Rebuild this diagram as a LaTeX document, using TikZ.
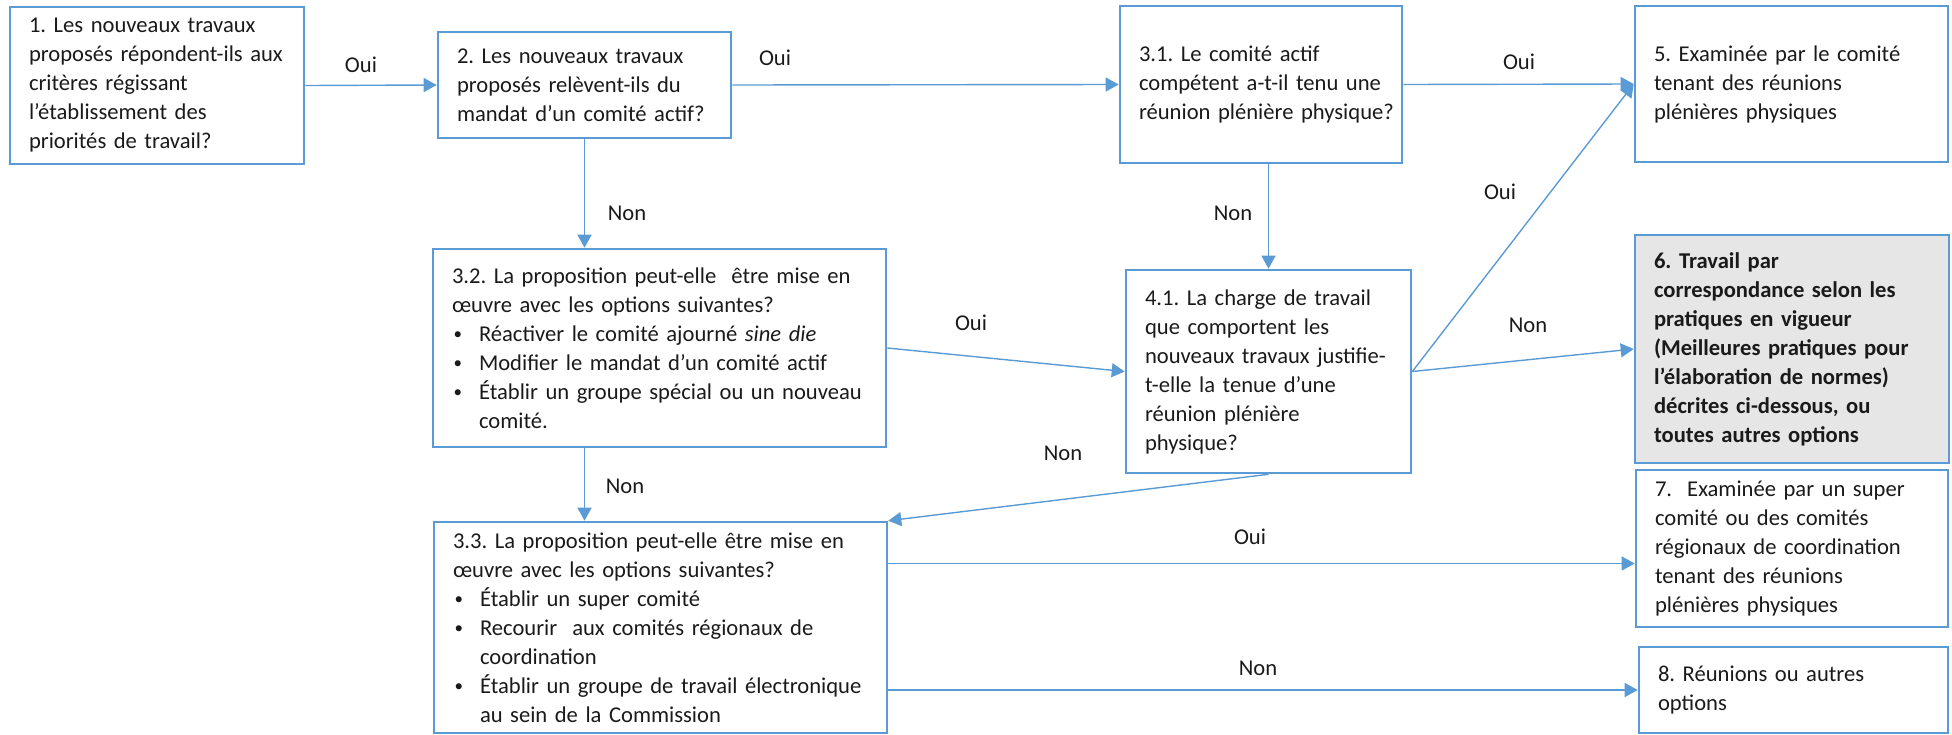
\documentclass[tikz,border=0pt]{standalone}
\usepackage{fontspec}
\setmainfont{Carlito}
\usepackage{tikz}
\usetikzlibrary{arrows.meta}
\definecolor{bord}{HTML}{5B9BD5}
\definecolor{fond}{HTML}{E7E6E6}
\definecolor{texte}{HTML}{1A1A1A}
\newcommand\puce{\makebox[13.5pt][l]{\hspace{0.8pt}\raisebox{0.8pt}{\fontsize{8.5pt}{8.5pt}\selectfont •}}}
\newcommand\suite{\hspace*{13.5pt}}
\frenchspacing
\tikzset{
  box/.style={draw=bord, line width=1.3pt, text=texte, align=left, inner xsep=9.5pt, inner ysep=2pt, font=\fontsize{11.3pt}{14.5pt}\selectfont},
  grisbox/.style={box, fill=fond, font=\fontsize{11.3pt}{14.5pt}\selectfont\bfseries},
  fleche/.style={draw=bord, line width=0.7pt, -{Triangle[length=6.5pt,width=7pt]}},
  lab/.style={text=texte, inner sep=0pt, font=\fontsize{11.3pt}{14.5pt}\selectfont},
}

\begin{document}
\begin{tikzpicture}[x=0.5pt,y=-0.5pt]
  \useasboundingbox (0,0) rectangle (1952,734);
  % boxes, centres in pixels of the page
  \node[box, text width=128pt, minimum height=78.5pt] (q1) at (157,85.5)
    {1. Les nouveaux travaux\\proposés répondent-ils aux\\critères régissant\\l’établissement des\\priorités de travail?};
  \node[box, text width=127.5pt, minimum height=53pt] (q2) at (584.5,85)
    {2. Les nouveaux travaux\\proposés relèvent-ils du\\mandat d’un comité actif?};
  \node[box, text width=122pt, minimum height=78.5pt] (q31) at (1261,84.5)
    {3.1. Le comité actif\\compétent a-t-il tenu une\\\mbox{réunion plénière physique?}};
  \node[box, text width=137.5pt, minimum height=78pt] (q5) at (1791.5,84)
    {5. Examinée par le comité\\tenant des réunions\\plénières physiques};
  \node[box, text width=207.5pt, minimum height=99pt] (q32) at (659.5,348)
    {3.2. La proposition peut-elle\ \ être mise en\\œuvre avec les options suivantes?\\
     \puce Réactiver le comité ajourné \textit{sine die}\\\puce Modifier le mandat d’un comité actif\\
     \puce Établir un groupe spécial ou un nouveau\\\suite comité.};
  \node[box, text width=123.5pt, minimum height=101.5pt] (q41) at (1268.5,371.5)
    {4.1. La charge de travail\\que comportent les\\nouveaux travaux justifie-\\t-elle la tenue d’une\\réunion plénière\\physique?};
  \node[grisbox, text width=138pt, minimum height=114pt] (q6) at (1792,349)
    {6. Travail par\\correspondance selon les\\pratiques en vigueur\\(Meilleures pratiques pour\\l’élaboration de normes)\\décrites ci-dessous, ou\\toutes autres options};
  \node[box, text width=137pt, minimum height=78.5pt] (q7) at (1792,548.5)
    {7.\ \ Examinée par un super\\comité ou des comités\\régionaux de coordination\\tenant des réunions\\plénières physiques};
  \node[box, text width=207.5pt, minimum height=105.5pt] (q33) at (660.5,627.5)
    {3.3. La proposition peut-elle être mise en\\œuvre avec les options suivantes?\\
     \puce Établir un super comité\\\puce Recourir\ \ aux comités régionaux de\\\suite coordination\\
     \puce Établir un groupe de travail électronique\\\suite au sein de la Commission};
  \node[box, text width=135.5pt, minimum height=43pt] (q8) at (1793.5,690)
    {8. Réunions ou autres\\options};

  \draw[fleche] (q1.east) -- (q2.west);
  \draw[fleche] (q2.east) -- (q31.west);
  \draw[fleche] (q31.east) -- (q5.west);
  \draw[fleche] (q2.south) -- (q32.north -| q2.south);
  \draw[fleche] (q31.south -| q41.north) -- (q41.north);
  \draw[fleche] (q32.east) -- (q41.west);
  \draw[fleche] (q41.east) -- (q5.west);
  \draw[fleche] (q41.east) -- (q6.west);
  \draw[fleche] (q41.south) -- (q33.north east);
  \draw[fleche] (q32.south -| q2.south) -- (q33.north -| q2.south);
  \coordinate (e7) at ([yshift=-7.5pt]q7.west);
  \draw[fleche] (e7 -| q33.east) -- (e7);
  \draw[fleche] (q8.west -| q33.east) -- (q8.west);

  \node[lab] (l12) at (361,65) {Oui};
  \node[lab] (l231) at (775,58) {Oui};
  \node[lab] (l315) at (1519,62) {Oui};
  \node[lab] (l232) at (627,213) {Non};
  \node[lab] (l3141) at (1233,213) {Non};
  \node[lab] (l415) at (1500,192) {Oui};
  \node[lab] (l416) at (1528,325) {Non};
  \node[lab] (l3241) at (971,323) {Oui};
  \node[lab] (l4133) at (1063,453) {Non};
  \node[lab] (l3233) at (625,486) {Non};
  \node[lab] (l337) at (1250,537) {Oui};
  \node[lab] (l338) at (1258,668) {Non};
\end{tikzpicture}
\end{document}
